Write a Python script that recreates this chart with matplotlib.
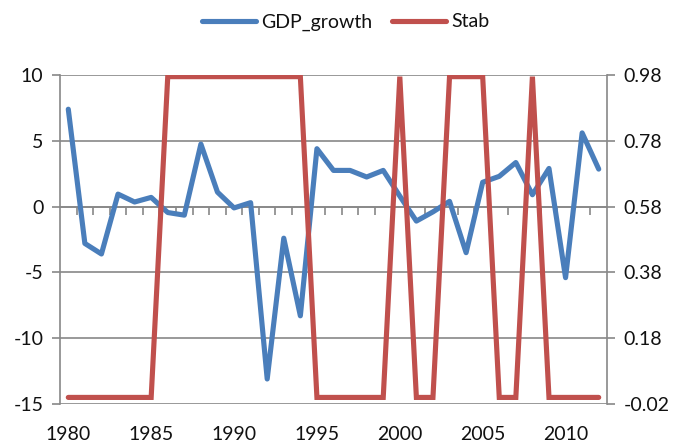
import matplotlib.pyplot as plt
import numpy as np

plt.rcParams['font.family'] = ['Lato', 'DejaVu Sans']

years = list(range(1980, 2013))
gdp_growth = [7.4, -2.8, -3.6, 0.95, 0.35, 0.7, -0.45, -0.65, 4.75, 1.1,
              -0.1, 0.3, -13.1, -2.4, -8.3, 4.4, 2.75, 2.75, 2.25, 2.75,
              0.8, -1.1, -0.4, 0.4, -3.5, 1.85, 2.3, 3.35, 0.9, 2.9,
              -5.4, 5.6, 2.85]
stab = [0, 0, 0, 0, 0, 0, 1, 1, 1, 1,
        1, 1, 1, 1, 1, 0, 0, 0, 0, 0,
        1, 0, 0, 1, 1, 1, 0, 0, 1, 0,
        0, 0, 0]
stab_top = 0.975  # plotted height of a "1"
left_ticks = [-15, -10, -5, 0, 5, 10]
right_ticks = [-0.02, 0.18, 0.38, 0.58, 0.78, 0.98]
year_labels = [1980, 1985, 1990, 1995, 2000, 2005, 2010]

blue = '#4a7ebb'
red = '#c0504d'
grey = '#888888'
txt = '#111111'
fs = 14

fig = plt.figure(figsize=(6.73, 4.42), dpi=100)
ax = fig.add_axes([60 / 673, 1 - 404 / 442, 547 / 673, 329 / 442])

x = np.array(years)
ax.plot(x, gdp_growth, color=blue, lw=3.7, solid_capstyle='round',
        solid_joinstyle='round', label='GDP_growth', zorder=3)
ax.set_xlim(years[0] - 0.5, years[-1] + 0.5)
ax.set_ylim(left_ticks[0], left_ticks[-1])
ax.set_yticks(left_ticks)
ax.set_yticklabels([str(v) for v in left_ticks])
ax.yaxis.grid(True, color=grey, lw=1.2)
ax.set_axisbelow(True)

# category axis crosses the value axis at 0, ticks between categories
ax.spines['bottom'].set_position(('data', 0))
ax.spines['bottom'].set_color(grey)
ax.spines['bottom'].set_linewidth(1.2)
ax.set_xticks(np.arange(years[0] + 0.5, years[-1], 1.0))
ax.set_xticklabels([])
ax.tick_params(axis='x', direction='out', length=6, width=1.2, color=grey)
ax.spines['top'].set_visible(False)
ax.spines['right'].set_visible(False)
ax.spines['left'].set_color(grey)
ax.spines['left'].set_linewidth(1.2)
ax.tick_params(axis='y', direction='out', length=6, width=1.2, color=grey,
               labelsize=fs, labelcolor=txt, pad=6)

# year labels along the bottom edge
sec = ax.secondary_xaxis('bottom')
sec.spines['bottom'].set_visible(False)
sec.set_xticks(year_labels)
sec.set_xticklabels([str(y) for y in year_labels])
sec.tick_params(length=0, labelsize=fs, labelcolor=txt, pad=16)

ax2 = ax.twinx()
ax2.plot(x, [s * stab_top for s in stab], color=red, lw=3.7,
         solid_capstyle='round', solid_joinstyle='miter', label='Stab')
ax2.set_ylim(right_ticks[0], right_ticks[-1])
ax2.set_yticks(right_ticks)
ax2.set_yticklabels([f'{v:.2f}' for v in right_ticks])
for s in ['top', 'left', 'bottom']:
    ax2.spines[s].set_visible(False)
ax2.spines['right'].set_color(grey)
ax2.spines['right'].set_linewidth(1.2)
ax2.tick_params(axis='y', direction='out', length=6, width=1.2, color=grey,
                labelsize=fs, labelcolor=txt, pad=6)

h1, l1 = ax.get_legend_handles_labels()
h2, l2 = ax2.get_legend_handles_labels()
fig.legend(h1 + h2, l1 + l2, loc='center',
           bbox_to_anchor=(0.5 + 9 / 673, 1 - 22 / 442),
           ncol=2, frameon=False, fontsize=fs, handlelength=2.8,
           handletextpad=0.25, columnspacing=1.0, labelcolor=txt)

fig.savefig('out.png', dpi=100)
